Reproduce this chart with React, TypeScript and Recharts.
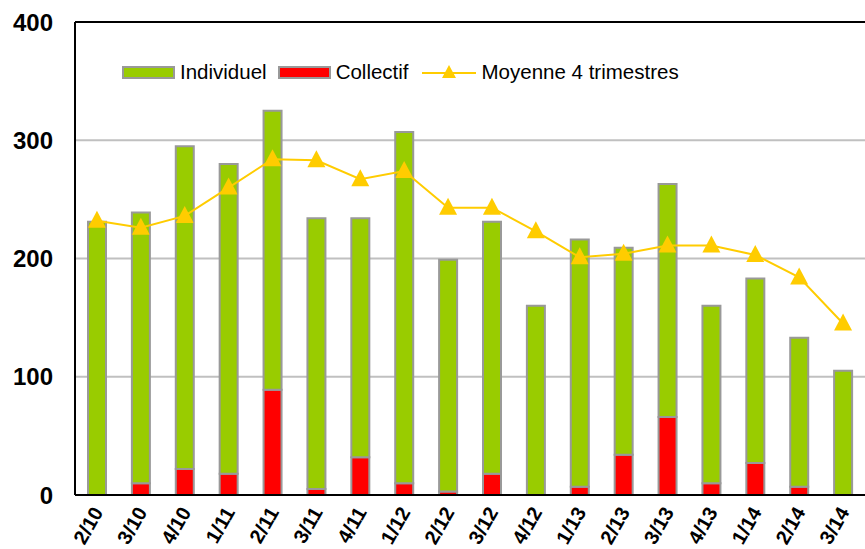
import { Bar, CartesianGrid, ComposedChart, Line, ReferenceLine, XAxis, YAxis } from 'recharts';

const quarters = ['2/10', '3/10', '4/10', '1/11', '2/11', '3/11', '4/11', '1/12', '2/12', '3/12', '4/12', '1/13', '2/13', '3/13', '4/13', '1/14', '2/14', '3/14'];
const individuel = [231, 229, 273, 262, 236, 229, 202, 297, 196, 213, 160, 209, 175, 197, 150, 156, 126, 105];
const collectif = [0, 10, 22, 18, 89, 5, 32, 10, 3, 18, 0, 7, 34, 66, 10, 27, 7, 0];
const moyenne = [232, 226, 236, 260, 284, 283, 267, 274, 243, 243, 223, 201, 204, 211, 211, 203, 184, 145];
const yTicks = [0, 100, 200, 300, 400];

const GREEN = '#99cc00';
const RED = '#ff0000';
const GOLD = '#ffcc00';
const FONT = '"Liberation Sans", Arial, sans-serif';

const data = quarters.map((q, i) => ({
  q,
  individuel: individuel[i],
  collectif: collectif[i],
  moyenne: moyenne[i],
}));

const Triangle = (props: any) => {
  const { cx, cy } = props;
  if (cx == null || cy == null) return null;
  return <polygon points={`${cx},${cy - 10} ${cx - 9},${cy + 7} ${cx + 9},${cy + 7}`} fill={GOLD} />;
};

const XTick = ({ x, y, payload }: any) => (
  <text
    x={x + 7}
    y={y + 9}
    transform={`rotate(-60 ${x + 7} ${y + 9})`}
    textAnchor="end"
    fontFamily={FONT}
    fontWeight="bold"
    fontSize={20}
    fill="#000"
  >
    {payload.value}
  </text>
);

// legend is drawn in HTML over the plot so it takes no room from it
const LegendBox = () => (
  <div
    style={{
      position: 'absolute',
      left: 122,
      top: 60,
      display: 'flex',
      alignItems: 'center',
      fontFamily: FONT,
      fontSize: 20.5,
      color: '#000',
      lineHeight: '24px',
    }}
  >
    <span style={{ width: 49, height: 9, background: GREEN, border: '2px solid #999', marginRight: 5 }} />
    <span style={{ marginRight: 11 }}>Individuel</span>
    <span style={{ width: 49, height: 9, background: RED, border: '2px solid #999', marginRight: 5 }} />
    <span style={{ marginRight: 13 }}>Collectif</span>
    <svg width={54} height={18} style={{ marginRight: 6 }}>
      <line x1={0} y1={10} x2={54} y2={10} stroke={GOLD} strokeWidth={2} />
      <polygon points="27,2 20,15 34,15" fill={GOLD} />
    </svg>
    <span>Moyenne 4 trimestres</span>
  </div>
);

export default function App() {
  return (
    <div style={{ position: 'absolute', left: 0, top: 0, width: 865, height: 549, background: '#fff' }}>
      <ComposedChart width={865} height={549} data={data} margin={{ top: 22, right: 0, left: 0, bottom: 0 }}>
        <CartesianGrid vertical={false} stroke="#c0c0c0" strokeWidth={2} />
        <XAxis
          dataKey="q"
          axisLine={{ stroke: '#000', strokeWidth: 2 }}
          tickLine={false}
          tick={<XTick />}
          interval={0}
          height={54}
        />
        <YAxis
          domain={[0, 400]}
          ticks={yTicks}
          axisLine={{ stroke: '#000', strokeWidth: 2 }}
          tickLine={false}
          width={75}
          tick={{ fontFamily: FONT, fontWeight: 'bold', fontSize: 24, fill: '#000' }}
          tickMargin={16}
        />
        <ReferenceLine y={400} stroke="#000" strokeWidth={2} />
        <Bar dataKey="collectif" stackId="a" barSize={18} fill={RED} stroke="#999" strokeWidth={2} isAnimationActive={false} />
        <Bar dataKey="individuel" stackId="a" barSize={18} fill={GREEN} stroke="#999" strokeWidth={2} isAnimationActive={false} />
        <Line
          dataKey="moyenne"
          stroke={GOLD}
          strokeWidth={2}
          dot={<Triangle />}
          activeDot={false}
          isAnimationActive={false}
        />
      </ComposedChart>
      <LegendBox />
    </div>
  );
}
